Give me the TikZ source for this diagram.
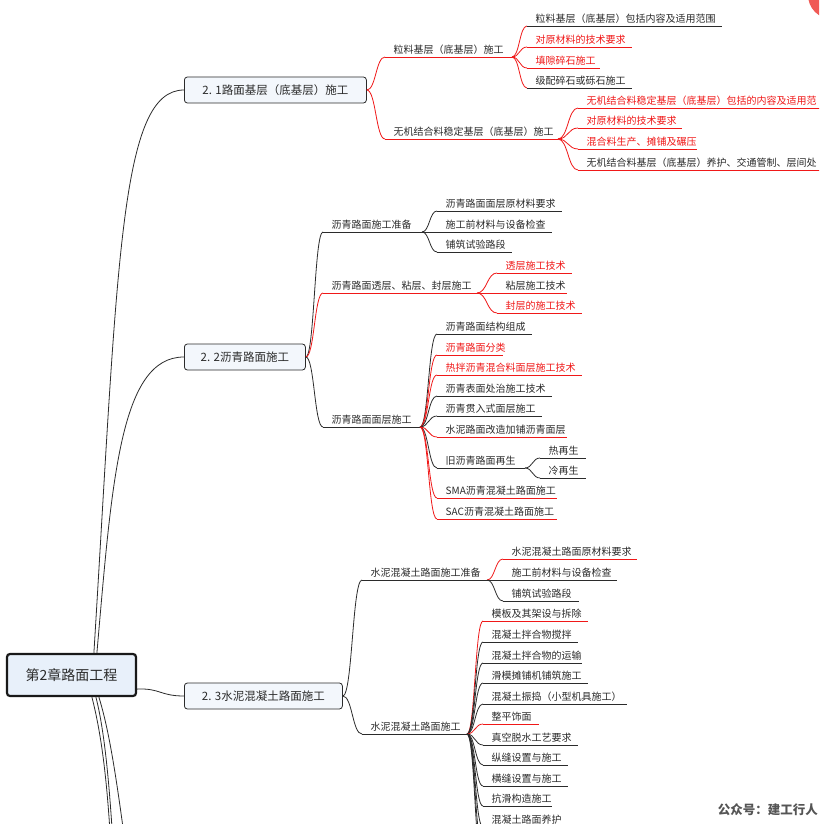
\documentclass[tikz,border=0pt]{standalone}
\usepackage{fontspec}
\setmainfont{Noto Sans CJK SC}
\usetikzlibrary{calc}
\definecolor{dk}{HTML}{2B2B2B}
\definecolor{rd}{HTML}{F01818}
\definecolor{boxfill}{HTML}{F3F7FC}
\definecolor{rootfill}{HTML}{E8F0FA}
\definecolor{wmgray}{HTML}{555555}
\definecolor{dotred}{HTML}{F05A55}
\tikzset{
  lbl/.style={font=\fontsize{10}{12}\selectfont, inner sep=0pt, anchor=base west},
  conn/.style={line width=0.8pt},
  topicbox/.style={draw=dk, fill=boxfill, rounded corners=3pt, line width=0.8pt,
    font=\fontsize{11.5}{13}\selectfont, text=dk, minimum height=26pt, inner sep=0pt, anchor=west},
  rootbox/.style={draw=black!90, fill=rootfill, rounded corners=3pt, line width=2.2pt,
    font=\fontsize{14}{16}\selectfont, text=dk, minimum height=42pt, minimum width=129pt, inner sep=0pt},
  wmark/.style={font=\fontsize{12.5}{14}\selectfont\bfseries, text=wmgray, inner sep=0pt, anchor=east}
}
% #1 name, #2 parent point, #3 x start, #4 y of line, #5 x end, #6 text, #7 text colour, #8 curve colour, #9 line colour
\newcommand\mmbranch[9]{%
  \coordinate (#1s) at (#3,#4);
  \coordinate (#1) at (#5,#4);
  \coordinate (#1m) at ($(#2)!0.5!(#1s)$);
  \node[lbl, text=#7] (#1t) at ($(#1s)+(8.5,-3.5)$) {#6};
  \draw[conn, #8] (#2) .. controls (#1m |- #2) and (#1m |- #1s) .. (#1s);
  \draw[conn, #9] (#1s) -- (#1);
}
% curve only, to a point below the picture
\newcommand\mmhidden[3]{%
  \coordinate (#1s) at (#3);
  \coordinate (#1m) at ($(#2)!0.5!(#1s)$);
  \draw[conn, dk] (#2) .. controls (#1m |- #2) and (#1m |- #1s) .. (#1s);
}
\begin{document}
\begin{tikzpicture}[x=1pt, y=-1pt]
\useasboundingbox (0,0) rectangle (819,824);
\clip (0,0) rectangle (819,824);
\fill[white] (0,0) rectangle (819,824);

% root and main topics
\node[rootbox] (root) at (71.5,675) {第2章路面工程};
\node[topicbox, minimum width=182pt] (b1) at (184,90) {2. 1路面基层（底基层）施工};
\node[topicbox, minimum width=121pt] (b2) at (184,357) {2. 2沥青路面施工};
\node[topicbox, minimum width=158pt] (b3) at (184,696) {2. 3水泥混凝土路面施工};

\coordinate (rA) at ($(root.north west)+(88,0)$);
\coordinate (rB) at ($(root.north west)+(91,0)$);
\coordinate (rC) at ($(root.south east)+(0,-8)$);
\coordinate (rD1) at ($(root.south west)+(86,0)$);
\coordinate (rD2) at ($(root.south west)+(90,0)$);
\coordinate (rD3) at ($(root.south west)+(93,0)$);
\coordinate (dn1) at (113,900);
\coordinate (dn2) at (118,950);
\coordinate (dn3) at (140,960);
\draw[conn, dk] (rA) .. controls (118,260) and (120,90) .. (b1.west);
\draw[conn, dk] (rB) .. controls (112,480) and (120,357) .. (b2.west);
\draw[conn, dk] (rC) .. controls (160,688) and (160,696) .. (b3.west);
\draw[conn, dk] (rD1) .. controls (103,740) and (110,800) .. (dn1);
\draw[conn, dk] (rD2) .. controls (107,740) and (113,820) .. (dn2);
\draw[conn, dk] (rD3) .. controls (112,740) and (120,800) .. (dn3);

% 2.1
\mmbranch{A}{b1.east}{385}{57}{512}{粒料基层（底基层）施工}{dk}{rd}{rd}
\mmbranch{B}{b1.east}{385}{139}{558}{无机结合料稳定基层（底基层）施工}{dk}{rd}{rd}
\mmbranch{A1}{A}{527}{26}{722}{粒料基层（底基层）包括内容及适用范围}{dk}{rd}{dk}
\mmbranch{A2}{A}{527}{47}{632}{对原材料的技术要求}{rd}{rd}{rd}
\mmbranch{A3}{A}{527}{68}{600}{填隙碎石施工}{rd}{rd}{rd}
\mmbranch{A4}{A}{527}{88}{632}{级配碎石或砾石施工}{dk}{rd}{dk}
\mmbranch{B1}{B}{578}{108}{840}{无机结合料稳定基层（底基层）包括的内容及适用范}{rd}{rd}{rd}
\mmbranch{B2}{B}{578}{128}{682}{对原材料的技术要求}{rd}{rd}{rd}
\mmbranch{B3}{B}{578}{149}{697}{混合料生产、摊铺及碾压}{rd}{rd}{rd}
\mmbranch{B4}{B}{578}{170}{840}{无机结合料基层（底基层）养护、交通管制、层间处}{dk}{rd}{rd}

% 2.2
\mmbranch{C}{b2.east}{323}{232}{422}{沥青路面施工准备}{dk}{dk}{dk}
\mmbranch{D}{b2.east}{323}{293}{477}{沥青路面透层、粘层、封层施工}{dk}{rd}{rd}
\mmbranch{E}{b2.east}{323}{427}{420}{沥青路面面层施工}{dk}{dk}{dk}
\mmbranch{C1}{C}{437}{211}{562}{沥青路面面层原材料要求}{dk}{dk}{dk}
\mmbranch{C2}{C}{437}{232}{552}{施工前材料与设备检查}{dk}{dk}{dk}
\mmbranch{C3}{C}{437}{252}{512}{铺筑试验路段}{dk}{dk}{dk}
\mmbranch{D1}{D}{497}{273}{572}{透层施工技术}{rd}{rd}{rd}
\mmbranch{D2}{D}{497}{293}{567}{粘层施工技术}{dk}{rd}{rd}
\mmbranch{D3}{D}{497}{313}{582}{封层的施工技术}{rd}{rd}{rd}
\mmbranch{E1}{E}{437}{334}{532}{沥青路面结构组成}{dk}{dk}{dk}
\mmbranch{E2}{E}{437}{355}{503}{沥青路面分类}{rd}{rd}{rd}
\mmbranch{E3}{E}{437}{375}{582}{热拌沥青混合料面层施工技术}{rd}{rd}{rd}
\mmbranch{E4}{E}{437}{396}{552}{沥青表面处治施工技术}{dk}{dk}{dk}
\mmbranch{E5}{E}{437}{416}{542}{沥青贯入式面层施工}{dk}{dk}{dk}
\mmbranch{E6}{E}{437}{437}{567}{水泥路面改造加铺沥青面层}{dk}{rd}{rd}
\mmbranch{E7}{E}{437}{468}{525}{旧沥青路面再生}{dk}{dk}{dk}
\mmbranch{E8}{E}{437}{498}{557}{SMA沥青混凝土路面施工}{dk}{rd}{rd}
\mmbranch{E9}{E}{437}{519}{557}{SAC沥青混凝土路面施工}{dk}{rd}{rd}
\mmbranch{F1}{E7}{540}{458}{586}{热再生}{dk}{dk}{dk}
\mmbranch{F2}{E7}{540}{478}{586}{冷再生}{dk}{dk}{dk}

% 2.3
\mmbranch{G}{b3.east}{362}{580}{487}{水泥混凝土路面施工准备}{dk}{dk}{dk}
\mmbranch{H}{b3.east}{362}{734}{467}{水泥混凝土路面施工}{dk}{dk}{dk}
\mmbranch{G1}{G}{503}{559}{637}{水泥混凝土路面原材料要求}{dk}{rd}{rd}
\mmbranch{G2}{G}{503}{580}{617}{施工前材料与设备检查}{dk}{dk}{dk}
\mmbranch{G3}{G}{503}{601}{579}{铺筑试验路段}{dk}{dk}{dk}
\mmbranch{H1}{H}{483}{621}{588}{模板及其架设与拆除}{dk}{rd}{rd}
\mmbranch{H2}{H}{483}{642}{578}{混凝土拌合物搅拌}{dk}{dk}{dk}
\mmbranch{H3}{H}{483}{663}{582}{混凝土拌合物的运输}{dk}{dk}{dk}
\mmbranch{H4}{H}{483}{683}{588}{滑模摊铺机铺筑施工}{dk}{dk}{dk}
\mmbranch{H5}{H}{483}{704}{627}{混凝土振捣（小型机具施工）}{dk}{dk}{dk}
\mmbranch{H6}{H}{483}{724}{539}{整平饰面}{dk}{rd}{rd}
\mmbranch{H7}{H}{483}{745}{578}{真空脱水工艺要求}{dk}{dk}{dk}
\mmbranch{H8}{H}{483}{765}{568}{纵缝设置与施工}{dk}{dk}{dk}
\mmbranch{H9}{H}{483}{786}{568}{横缝设置与施工}{dk}{dk}{dk}
\mmbranch{H10}{H}{483}{806}{552}{抗滑构造施工}{dk}{dk}{dk}
\mmbranch{H11}{H}{483}{827}{560}{混凝土路面养护}{dk}{dk}{dk}
\mmhidden{Hx1}{H}{483,848}
\mmhidden{Hx2}{H}{483,869}

% decorations
\fill[dotred] (832,-5) circle[radius=24pt];
\node[wmark] (wm) at (818,810) {公众号：建工行人};
\end{tikzpicture}
\end{document}
